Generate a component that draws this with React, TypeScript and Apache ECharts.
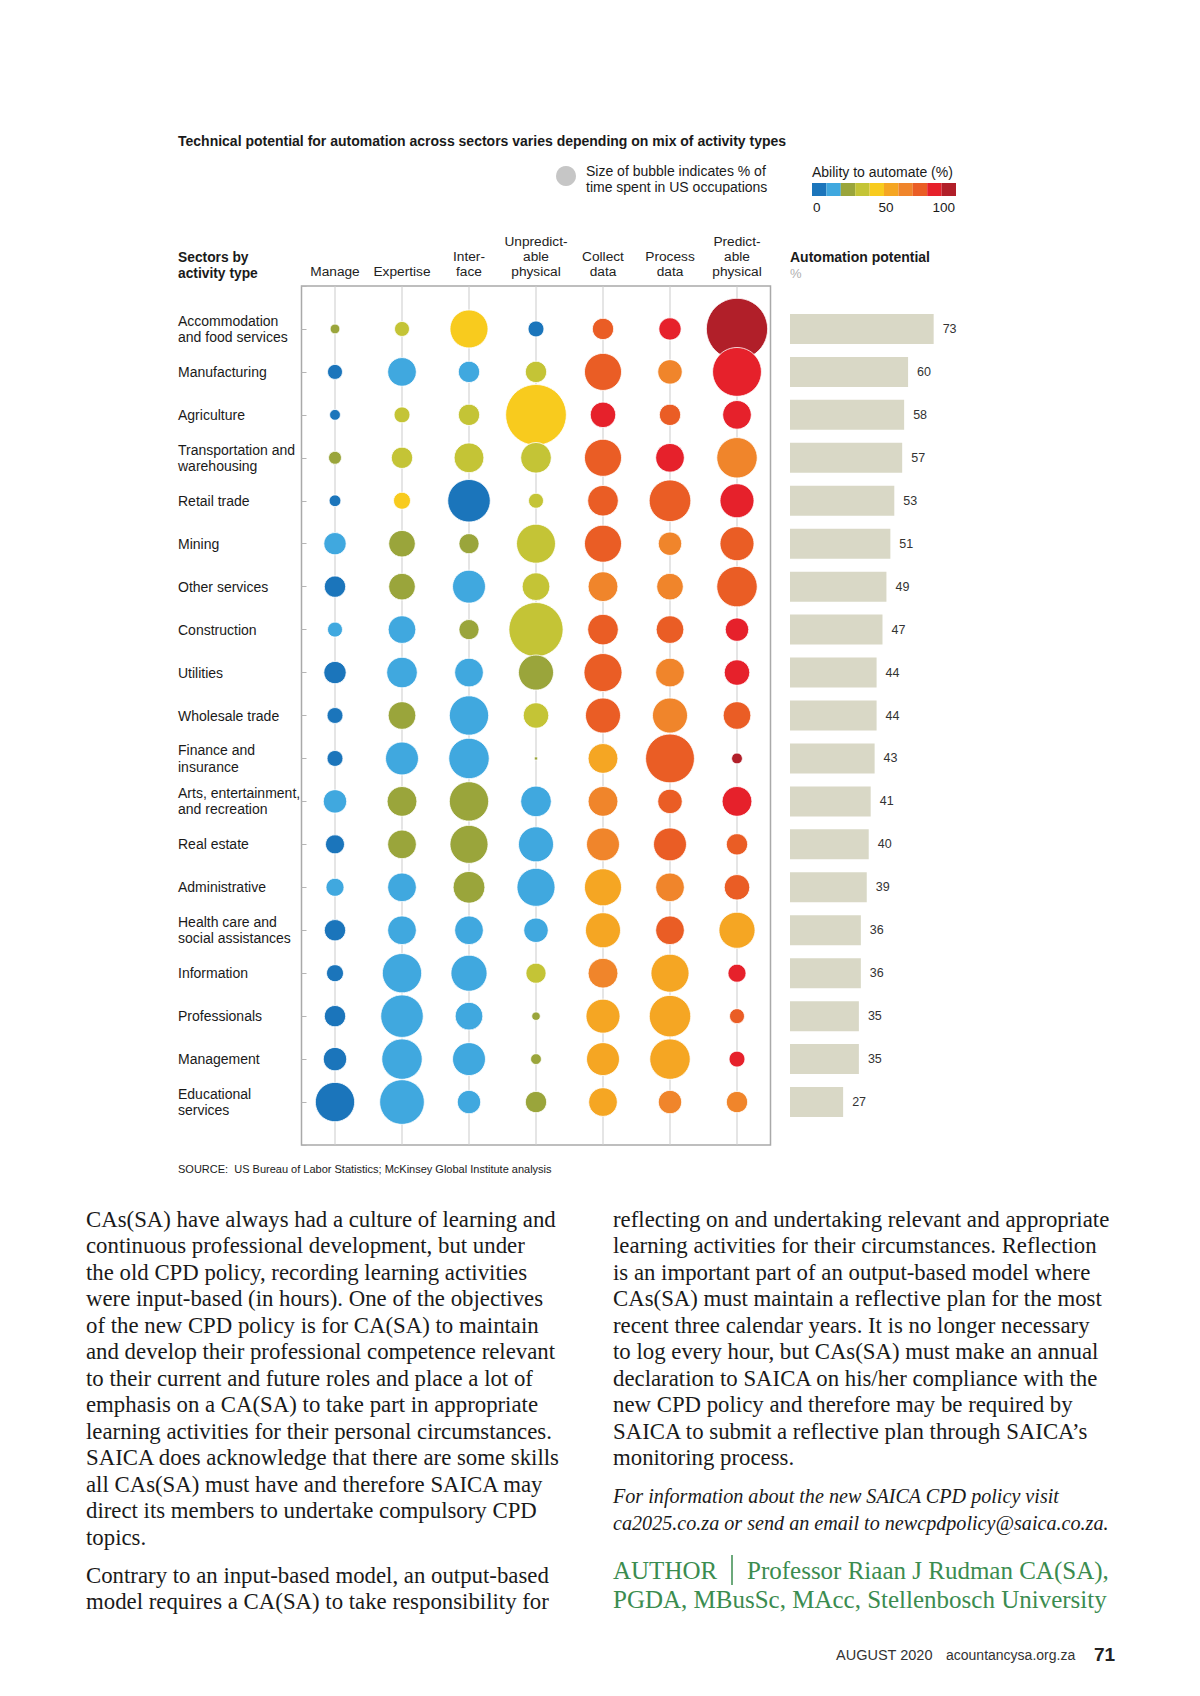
import React, { useEffect, useRef } from 'react';
import * as echarts from 'echarts';

const sectors = [
  'Accommodation\nand food services',
  'Manufacturing',
  'Agriculture',
  'Transportation and\nwarehousing',
  'Retail trade',
  'Mining',
  'Other services',
  'Construction',
  'Utilities',
  'Wholesale trade',
  'Finance and\ninsurance',
  'Arts, entertainment,\nand recreation',
  'Real estate',
  'Administrative',
  'Health care and\nsocial assistances',
  'Information',
  'Professionals',
  'Management',
  'Educational\nservices',
];

const activities = [
  'Manage',
  'Expertise',
  'Inter-\nface',
  'Unpredict-\nable\nphysical',
  'Collect\ndata',
  'Process\ndata',
  'Predict-\nable\nphysical',
];

const automationPotential = [73, 60, 58, 57, 53, 51, 49, 47, 44, 44, 43, 41, 40, 39, 36, 36, 35, 35, 27];

// % of time spent (bubble size), one row per sector, columns follow activities
const timeShare: number[][] = [
  [1.3, 3.1, 20, 3.5, 6.3, 6.9, 52],
  [3.1, 11.4, 6.3, 6.3, 19, 8.3, 33],
  [1.6, 3.5, 6.3, 51, 9, 6.3, 11.4],
  [2.3, 6.3, 12.3, 13, 19, 11.4, 22.6],
  [1.9, 4, 25, 3.1, 13, 24, 16],
  [6.9, 9.8, 5.6, 21, 19, 7.6, 16],
  [6.3, 9.8, 15, 10.6, 12.3, 9.8, 22.6],
  [3.1, 10.6, 5.6, 40.6, 13, 10.6, 7.6],
  [6.9, 13, 11.4, 17, 20, 11.4, 9],
  [3.5, 10.6, 21.4, 9, 17, 17, 10.6],
  [3.5, 15, 22.6, 0.15, 12.3, 33, 1.6],
  [7.6, 12.3, 21.4, 13, 12.3, 8.3, 12.3],
  [5, 11.4, 20, 17, 15, 15, 6.3],
  [4.5, 11.4, 14, 20, 19, 11.4, 9],
  [6.3, 11.4, 11.4, 8.3, 17, 11.4, 18],
  [4, 21.4, 18, 5.6, 12.3, 20, 4.5],
  [6.3, 25, 10.6, 1, 16, 23.8, 3.1],
  [7.6, 22.6, 15, 1.6, 15, 22.6, 3.5],
  [21.4, 27.6, 7.6, 6.3, 11.4, 7.6, 6.3],
];

// Ability to automate (%), same layout
const ability: number[][] = [
  [25, 35, 45, 5, 75, 85, 95],
  [5, 15, 15, 35, 75, 65, 85],
  [5, 35, 35, 45, 85, 75, 85],
  [25, 35, 35, 35, 75, 85, 65],
  [5, 45, 5, 35, 75, 75, 85],
  [15, 25, 25, 35, 75, 65, 75],
  [5, 25, 15, 35, 65, 65, 75],
  [15, 15, 25, 35, 75, 75, 85],
  [5, 15, 15, 25, 75, 65, 85],
  [5, 25, 15, 35, 75, 65, 75],
  [5, 15, 15, 25, 55, 75, 95],
  [15, 25, 25, 15, 65, 75, 85],
  [5, 25, 25, 15, 65, 75, 75],
  [15, 15, 25, 15, 55, 65, 75],
  [5, 15, 15, 15, 55, 75, 55],
  [5, 15, 15, 35, 65, 55, 85],
  [5, 15, 15, 25, 55, 55, 75],
  [5, 15, 15, 25, 55, 55, 85],
  [5, 15, 15, 25, 55, 65, 65],
];

const abilityColors = ['#1b75bb', '#40a8df', '#9aa53b', '#c4c436', '#f8cb1e', '#f5a623', '#f0852b', '#ea5d25', '#e6212b', '#b11f29'];
const abilityTicks = ['0', '50', '100'];

const leftColumn = [
  'CAs(SA) have always had a culture of learning and',
  'continuous professional development, but under',
  'the old CPD policy, recording learning activities',
  'were input-based (in hours). One of the objectives',
  'of the new CPD policy is for CA(SA) to maintain',
  'and develop their professional competence relevant',
  'to their current and future roles and place a lot of',
  'emphasis on a CA(SA) to take part in appropriate',
  'learning activities for their personal circumstances.',
  'SAICA does acknowledge that there are some skills',
  'all CAs(SA) must have and therefore SAICA may',
  'direct its members to undertake compulsory CPD',
  'topics.',
];
const leftColumn2 = [
  'Contrary to an input-based model, an output-based',
  'model requires a CA(SA) to take responsibility for',
];
const rightColumn = [
  'reflecting on and undertaking relevant and appropriate',
  'learning activities for their circumstances. Reflection',
  'is an important part of an output-based model where',
  'CAs(SA) must maintain a reflective plan for the most',
  'recent three calendar years. It is no longer necessary',
  'to log every hour, but CAs(SA) must make an annual',
  'declaration to SAICA on his/her compliance with the',
  'new CPD policy and therefore may be required by',
  'SAICA to submit a reflective plan through SAICA\u2019s',
  'monitoring process.',
];
const italicLines = [
  'For information about the new SAICA CPD policy visit',
  'ca2025.co.za or send an email to newcpdpolicy@saica.co.za.',
];

const SANS = '"Liberation Sans", Arial, Helvetica, sans-serif';
const SERIF = '"Liberation Serif", "Times New Roman", serif';

function txt(text: string, x: number, y: number, opts: any = {}) {
  return {
    type: 'text',
    x,
    y,
    scaleX: opts.scaleX || 1,
    silent: true,
    style: {
      text,
      fill: opts.fill || '#1a1a1a',
      fontSize: opts.fontSize || 13,
      fontFamily: opts.fontFamily || SANS,
      fontWeight: opts.fontWeight || 'normal',
      fontStyle: opts.fontStyle || 'normal',
      align: opts.align || 'left',
      verticalAlign: 'middle',
    },
  };
}

export default function App() {
  const ref = useRef<HTMLDivElement>(null);
  useEffect(() => {
    const chart = echarts.init(ref.current!, null, { renderer: 'svg' });
    const scatterData: number[][] = [];
    sectors.forEach((_, r) => {
      activities.forEach((__, c) => {
        scatterData.push([c, r, timeShare[r][c], ability[r][c]]);
      });
    });

    const bodyStyle = { fontFamily: SERIF, fontSize: 22.8, fill: '#1a1a1a' };
    const graphics: any[] = [
      txt('Technical potential for automation across sectors varies depending on mix of activity types', 178, 141, { fontWeight: 'bold', fontSize: 14 }),
      { type: 'circle', silent: true, shape: { cx: 566, cy: 176, r: 10 }, style: { fill: '#c6c6c6' } },
      txt('Size of bubble indicates % of', 586, 171, { fontSize: 14 }),
      txt('time spent in US occupations', 586, 187, { fontSize: 14 }),
      txt('Ability to automate (%)', 812, 172, { fontSize: 14 }),
      txt(abilityTicks[0], 813, 207, { fontSize: 13.5 }),
      txt(abilityTicks[1], 886, 207, { fontSize: 13.5, align: 'center' }),
      txt(abilityTicks[2], 955, 207, { fontSize: 13.5, align: 'right' }),
      txt('Sectors by', 178, 257, { fontWeight: 'bold', fontSize: 13.8 }),
      txt('activity type', 178, 273, { fontWeight: 'bold', fontSize: 13.8 }),
      txt('Automation potential', 790, 257, { fontWeight: 'bold', fontSize: 14 }),
      txt('%', 790, 273, { fontSize: 13, fill: '#b0b0b0' }),
      txt('SOURCE:  US Bureau of Labor Statistics; McKinsey Global Institute analysis', 178, 1169, { fontSize: 11 }),
    ];
    leftColumn.forEach((l, i) => graphics.push(txt(l, 86, 1219 + i * 26.5, bodyStyle)));
    leftColumn2.forEach((l, i) => graphics.push(txt(l, 86, 1575 + i * 26.5, bodyStyle)));
    rightColumn.forEach((l, i) => graphics.push(txt(l, 613, 1219 + i * 26.5, bodyStyle)));
    italicLines.forEach((l, i) => graphics.push(txt(l, 613, 1496 + i * 27, { ...bodyStyle, fontStyle: 'italic', fontSize: 22, scaleX: 0.916 })));
    const green = '#3b8c4f';
    graphics.push(txt('AUTHOR', 613, 1570, { fontFamily: SERIF, fontSize: 25, fill: green }));
    graphics.push({ type: 'line', silent: true, shape: { x1: 732, y1: 1555, x2: 732, y2: 1585 }, style: { stroke: green, lineWidth: 1.5 } });
    graphics.push(txt('Professor Riaan J Rudman CA(SA),', 747, 1570, { fontFamily: SERIF, fontSize: 25, fill: green }));
    graphics.push(txt('PGDA, MBusSc, MAcc, Stellenbosch University', 613, 1599, { fontFamily: SERIF, fontSize: 25, fill: green }));
    graphics.push(txt('AUGUST 2020', 836, 1655, { fontFamily: SANS, fontSize: 14.5, fill: '#333' }));
    graphics.push(txt('acountancysa.org.za', 946, 1655, { fontFamily: SANS, fontSize: 14, fill: '#333' }));
    graphics.push(txt('71', 1094, 1654, { fontFamily: SANS, fontSize: 19, fontWeight: 'bold', fill: '#222' }));

    const option: any = {
      animation: false,
      backgroundColor: '#ffffff',
      textStyle: { fontFamily: SANS },
      grid: [
        { left: 301.5, top: 286, width: 469, height: 859, show: true, borderColor: '#a9a9a9', borderWidth: 1.5, backgroundColor: 'transparent' },
        { left: 790, top: 307.5, width: 196.8, height: 816 },
      ],
      xAxis: [
        {
          type: 'category',
          gridIndex: 0,
          data: activities,
          position: 'top',
          axisLine: { show: false },
          axisTick: { show: false },
          splitLine: { show: false },
          axisLabel: { interval: 0, fontSize: 13.7, lineHeight: 15, color: '#222', margin: 7 },
        },
        { type: 'value', gridIndex: 1, min: 0, max: 100, show: false },
      ],
      yAxis: [
        {
          type: 'value',
          gridIndex: 0,
          min: -1,
          max: 19,
          interval: 1,
          inverse: true,
          axisLine: { show: false },
          splitLine: { show: false },
          axisTick: { show: true, inside: true, length: 5, lineStyle: { color: '#b5b5b5' } },
          axisLabel: {
            align: 'left',
            margin: 123.5,
            fontSize: 14,
            lineHeight: 16.2,
            color: '#1a1a1a',
            formatter: (v: number) => sectors[v] ?? '',
          },
        },
        { type: 'category', gridIndex: 1, data: sectors, inverse: true, show: false },
      ],
      visualMap: {
        type: 'piecewise',
        seriesIndex: 0,
        dimension: 3,
        orient: 'horizontal',
        left: 812,
        top: 183,
        padding: 0,
        itemWidth: 14.4,
        itemHeight: 13,
        itemGap: 0,
        itemSymbol: 'rect',
        showLabel: false,
        selectedMode: false,
        pieces: abilityColors.map((color, i) => (i < 9 ? { gte: i * 10, lt: i * 10 + 10, color } : { gte: 90, lte: 100, color })),
      },
      series: [
        {
          type: 'scatter',
          xAxisIndex: 0,
          yAxisIndex: 0,
          data: scatterData,
          symbolSize: (val: number[]) => 8.5 * Math.sqrt(val[2]),
          itemStyle: { opacity: 1, borderColor: '#ffffff', borderWidth: 0.8 },
          z: 3,
          silent: true,
        },
        ...activities.map((_, c) => ({
          type: 'line',
          xAxisIndex: 0,
          yAxisIndex: 0,
          data: [
            [c, -1],
            [c, 19],
          ],
          symbol: 'none',
          silent: true,
          z: 1,
          lineStyle: { color: '#cbcbcb', width: 1 },
        })),
        {
          type: 'bar',
          xAxisIndex: 1,
          yAxisIndex: 1,
          data: automationPotential,
          barWidth: 30,
          itemStyle: { color: '#d9d8c6' },
          silent: true,
          label: { show: true, position: 'right', distance: 9, fontSize: 12.5, color: '#333' },
        },
      ],
      graphic: graphics,
    };
    chart.setOption(option);
    return () => chart.dispose();
  }, []);
  return <div ref={ref} style={{ position: 'absolute', left: 0, top: 0, width: 1200, height: 1696, background: '#fff' }} />;
}
